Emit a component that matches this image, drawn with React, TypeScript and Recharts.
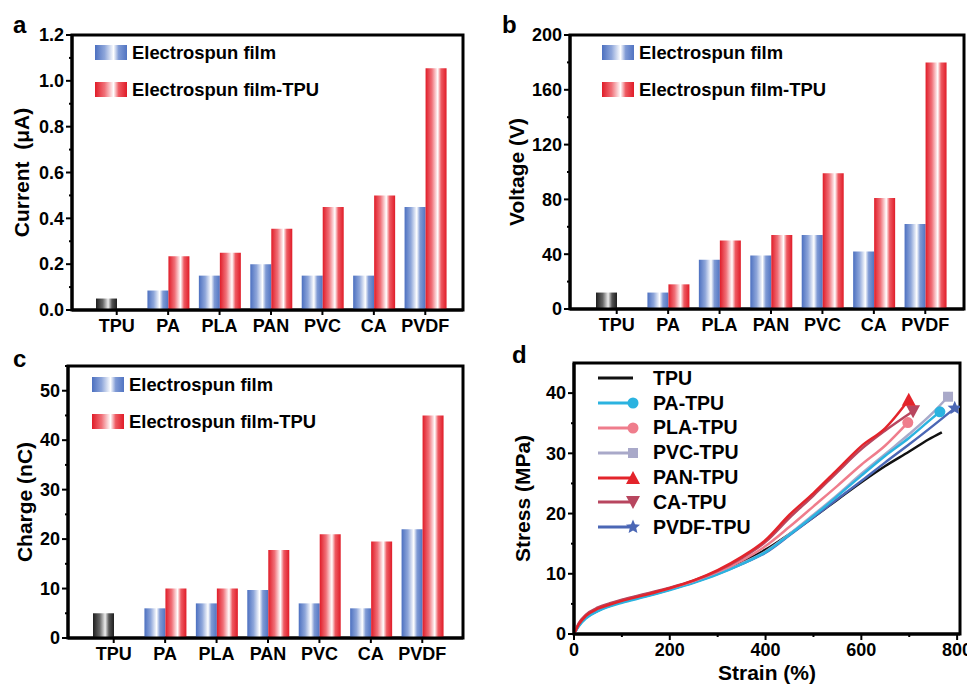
import React from "react";
import * as Recharts from "recharts";
import { BarChart, Bar, Cell, LineChart, Line, XAxis, YAxis, Legend } from "recharts";

const FONT = '"Liberation Sans", Arial, Helvetica, sans-serif';

// ---- bar panels (a, b, c) ----
const categories = ["TPU", "PA", "PLA", "PAN", "PVC", "CA", "PVDF"];

const currentFilm = [0.05, 0.085, 0.15, 0.2, 0.15, 0.15, 0.45];
const currentFilmTpu = [null, 0.235, 0.25, 0.355, 0.45, 0.5, 1.055];
const currentTicks = [0, 0.1, 0.2, 0.3, 0.4, 0.5, 0.6, 0.7, 0.8, 0.9, 1.0, 1.1, 1.2];
const currentTickLabels = [0, 0.2, 0.4, 0.6, 0.8, 1.0, 1.2];

const voltageFilm = [12, 12, 36, 39, 54, 42, 62];
const voltageFilmTpu = [null, 18, 50, 54, 99, 81, 180];
const voltageTicks = [0, 20, 40, 60, 80, 100, 120, 140, 160, 180, 200];
const voltageTickLabels = [0, 40, 80, 120, 160, 200];

const chargeFilm = [5, 6, 7, 9.7, 7, 6, 22];
const chargeFilmTpu = [null, 10, 10, 17.8, 21, 19.5, 45];
const chargeTicks = [0, 5, 10, 15, 20, 25, 30, 35, 40, 45, 50, 55];
const chargeTickLabels = [0, 10, 20, 30, 40, 50];

const barSeriesNames = ["Electrospun film", "Electrospun film-TPU"];

// ---- stress-strain panel (d), [strain %, stress MPa] ----
const tpuCurve = [[0, 0], [10, 1.6], [25, 2.9], [50, 4.0], [75, 4.8], [100, 5.4], [150, 6.4], [200, 7.5], [250, 8.8], [300, 10.3], [350, 12.0], [400, 14.0], [450, 16.6], [500, 19.4], [550, 22.3], [600, 25.2], [650, 27.9], [700, 30.3], [740, 32.3], [768, 33.5]];
const paCurve = [[0, 0], [10, 1.3], [25, 2.6], [50, 3.8], [75, 4.6], [100, 5.2], [150, 6.2], [200, 7.3], [250, 8.5], [300, 9.9], [350, 11.6], [400, 13.6], [450, 16.5], [500, 19.6], [550, 22.9], [600, 26.3], [650, 29.6], [700, 32.6], [740, 35.3], [764, 36.9]];
const plaCurve = [[0, 0], [10, 1.7], [25, 3.1], [50, 4.3], [75, 5.0], [100, 5.6], [150, 6.6], [200, 7.6], [250, 8.8], [300, 10.3], [350, 12.2], [400, 14.6], [450, 17.8], [500, 21.2], [550, 24.6], [600, 28.1], [650, 31.3], [697, 35.1]];
const pvcCurve = [[0, 0], [10, 1.4], [25, 2.7], [50, 3.9], [75, 4.7], [100, 5.3], [150, 6.3], [200, 7.4], [250, 8.6], [300, 10.0], [350, 11.7], [400, 13.7], [450, 16.6], [500, 19.8], [550, 23.1], [600, 26.6], [650, 29.9], [700, 33.2], [750, 36.8], [781, 39.4]];
const panCurve = [[0, 0], [10, 1.6], [25, 3.0], [50, 4.2], [75, 4.9], [100, 5.5], [150, 6.5], [200, 7.6], [250, 8.9], [300, 10.6], [350, 12.8], [400, 15.6], [450, 19.8], [500, 23.4], [550, 27.3], [600, 31.2], [650, 34.2], [699, 38.9]];
const caCurve = [[0, 0], [10, 1.8], [25, 3.2], [50, 4.4], [75, 5.1], [100, 5.7], [150, 6.7], [200, 7.7], [250, 8.9], [300, 10.5], [350, 12.6], [400, 15.3], [450, 19.3], [500, 23.0], [550, 26.9], [600, 30.7], [650, 33.8], [708, 37.0]];
const pvdfCurve = [[0, 0], [10, 1.4], [25, 2.7], [50, 3.9], [75, 4.7], [100, 5.3], [150, 6.3], [200, 7.4], [250, 8.6], [300, 10.0], [350, 11.6], [400, 13.5], [450, 16.4], [500, 19.4], [550, 22.4], [600, 25.4], [650, 28.5], [700, 31.5], [750, 34.6], [795, 37.5]];

const curveNames = ["TPU", "PA-TPU", "PLA-TPU", "PVC-TPU", "PAN-TPU", "CA-TPU", "PVDF-TPU"];
const curveData = [tpuCurve, paCurve, plaCurve, pvcCurve, panCurve, caCurve, pvdfCurve];
const curveColors = ["#111111", "#2bb3e0", "#ef7d8c", "#a9a9c9", "#e3242b", "#b8465f", "#4b67b5"];
const curveMarkers = ["none", "circle", "circle", "square", "triangle", "triangleDown", "star"];
const drawOrder = [0, 6, 3, 1, 2, 5, 4];

const strainTicks = [0, 100, 200, 300, 400, 500, 600, 700, 800];
const strainTickLabels = [0, 200, 400, 600, 800];
const stressTicks = [0, 5, 10, 15, 20, 25, 30, 35, 40];
const stressTickLabels = [0, 10, 20, 30, 40];

const blueStops = [["0%", "#4c70c0"], ["30%", "#8ea6da"], ["58%", "#ffffff"], ["74%", "#7f9ad5"], ["100%", "#5174c2"]];
const redStops = [["0%", "#e01c28"], ["30%", "#f07078"], ["58%", "#ffffff"], ["74%", "#ee5a62"], ["100%", "#e01c28"]];
const grayStops = [["0%", "#1e1e1e"], ["32%", "#666666"], ["58%", "#eeeeee"], ["76%", "#555555"], ["100%", "#1e1e1e"]];

const cssGrad = (stops: string[][]) =>
  `linear-gradient(to right, ${stops.map(([o, c]) => `${c} ${o}`).join(", ")})`;

const isIn = (labels: number[], v: number) => labels.some((l) => Math.abs(l - v) < 1e-9);

const titleStyle = { fill: "#000", fontSize: 21, fontWeight: "bold", fontFamily: FONT, textAnchor: "middle" };
const axisLine = { stroke: "#000", strokeWidth: 3 };
const TICK = 6;
const MINOR = 3;

// box around the plot area
const usePlotAreaHook: any = (Recharts as any).usePlotArea || (() => null);
const Frame = () => {
  const pa = usePlotAreaHook();
  if (!pa) return null;
  return <rect x={pa.x} y={pa.y} width={pa.width} height={pa.height} fill="none" stroke="#000" strokeWidth={3} />;
};

// tick with a long line for labelled values and a short one for minor values
const makeTick = (side: "left" | "bottom", labels: number[], fmt: (v: number) => string) => (p: any) => {
  const v = p.payload.value;
  const major = isIn(labels, v);
  const len = major ? TICK : MINOR;
  const text = major ? fmt(v) : "";
  if (side === "left") {
    const ax = p.x + TICK + 2;
    return (
      <g>
        <line x1={ax - len} y1={p.y} x2={ax} y2={p.y} stroke="#000" strokeWidth={2} />
        <text x={p.x} y={p.y} dy="0.35em" textAnchor="end" fill="#000" fontSize={18} fontWeight="bold" fontFamily={FONT}>
          {text}
        </text>
      </g>
    );
  }
  const ay = p.y - TICK - 2;
  return (
    <g>
      <line x1={p.x} y1={ay} x2={p.x} y2={ay + len} stroke="#000" strokeWidth={2} />
      <text x={p.x} y={p.y} dy="0.8em" textAnchor="middle" fill="#000" fontSize={18} fontWeight="bold" fontFamily={FONT}>
        {text}
      </text>
    </g>
  );
};

const CategoryTick = (p: any) => {
  const ay = p.y - TICK - 2;
  return (
    <g>
      <line x1={p.x} y1={ay} x2={p.x} y2={ay + 5} stroke="#000" strokeWidth={2} />
      <text x={p.x} y={p.y} dy="0.8em" textAnchor="middle" fill="#000" fontSize={18} fontWeight="bold" fontFamily={FONT}>
        {p.payload.value}
      </text>
    </g>
  );
};

const Grad = ({ id, stops }: any) => (
  <linearGradient id={id} x1="0" y1="0" x2="1" y2="0">
    {stops.map(([o, c]: string[]) => (
      <stop key={o} offset={o} stopColor={c} />
    ))}
  </linearGradient>
);

const BarLegend = () => (
  <div style={{ fontFamily: FONT, fontWeight: "bold", fontSize: 18.4, color: "#000" }}>
    {barSeriesNames.map((n, i) => (
      <div key={n} style={{ display: "flex", alignItems: "center", height: 37 }}>
        <div style={{ width: 32, height: 15, background: cssGrad(i === 0 ? blueStops : redStops) }} />
        <span style={{ marginLeft: 5, whiteSpace: "nowrap" }}>{n}</span>
      </div>
    ))}
  </div>
);

const BarPanel = ({ id, film, filmTpu, ticks, labels, fmt, yLabel, width, height, margin, yWidth, xHeight, labelOffset, padding, legendPos }: any) => {
  const data = categories.map((c, i) => ({ name: c, film: film[i], filmTpu: filmTpu[i] }));
  const top = ticks[ticks.length - 1];
  return (
    <BarChart width={width} height={height} data={data} margin={margin} barGap={0} barSize={21}>
      <defs>
        <Grad id={id + "Blue"} stops={blueStops} />
        <Grad id={id + "Red"} stops={redStops} />
        <Grad id={id + "Gray"} stops={grayStops} />
      </defs>
      <Frame />
      <XAxis dataKey="name" height={xHeight} padding={padding} tick={<CategoryTick />} axisLine={axisLine} tickLine={false} tickSize={TICK} interval={0} />
      <YAxis
        width={yWidth}
        domain={[0, top]}
        ticks={ticks}
        allowDataOverflow
        interval={0}
        tick={makeTick("left", labels, fmt)}
        axisLine={axisLine}
        tickLine={false}
        tickSize={TICK}
        label={{ value: yLabel, angle: -90, position: "insideLeft", offset: labelOffset, style: titleStyle }}
      />
      <Legend
        layout="vertical"
        align="center"
        verticalAlign="middle"
        wrapperStyle={{ left: legendPos[0], top: legendPos[1], width: "auto" }}
        content={() => <BarLegend />}
      />
      <Bar dataKey="film" name={barSeriesNames[0]} isAnimationActive={false}>
        {categories.map((c, i) => (
          <Cell key={c} fill={filmTpu[i] == null ? `url(#${id}Gray)` : `url(#${id}Blue)`} />
        ))}
      </Bar>
      <Bar dataKey="filmTpu" name={barSeriesNames[1]} fill={`url(#${id}Red)`} isAnimationActive={false} />
    </BarChart>
  );
};

const starPath = (cx: number, cy: number, r: number) => {
  const pts: string[] = [];
  for (let k = 0; k < 10; k++) {
    const rr = k % 2 === 0 ? r : r * 0.45;
    const a = -Math.PI / 2 + (k * Math.PI) / 5;
    pts.push(`${cx + rr * Math.cos(a)},${cy + rr * Math.sin(a)}`);
  }
  return "M" + pts.join("L") + "Z";
};

const Marker = ({ shape, color, cx, cy }: any) => {
  if (shape === "circle") return <circle cx={cx} cy={cy} r={5.5} fill={color} />;
  if (shape === "square") return <rect x={cx - 5} y={cy - 5} width={10} height={10} fill={color} />;
  if (shape === "triangle") return <path d={`M${cx},${cy - 7}L${cx + 7},${cy + 6}L${cx - 7},${cy + 6}Z`} fill={color} />;
  if (shape === "triangleDown") return <path d={`M${cx},${cy + 7}L${cx + 7},${cy - 6}L${cx - 7},${cy - 6}Z`} fill={color} />;
  if (shape === "star") return <path d={starPath(cx, cy, 7.5)} fill={color} />;
  return null;
};

const CurveLegend = () => (
  <div style={{ fontFamily: FONT, fontWeight: "bold", fontSize: 19.5, color: "#000" }}>
    {curveNames.map((n, i) => (
      <div key={n} style={{ display: "flex", alignItems: "center", height: 24.8 }}>
        <svg width={42} height={18} style={{ display: "block" }}>
          <line x1={0} y1={9} x2={35} y2={9} stroke={curveColors[i]} strokeWidth={3} />
          <Marker shape={curveMarkers[i]} color={curveColors[i]} cx={35} cy={9} />
        </svg>
        <span style={{ marginLeft: 13, whiteSpace: "nowrap" }}>{n}</span>
      </div>
    ))}
  </div>
);

const StressPanel = () => (
  <LineChart width={487} height={354} margin={{ top: 33, right: 7, left: 30, bottom: 4 }}>
    <Frame />
    <XAxis
      type="number"
      dataKey="x"
      domain={[0, 806]}
      allowDataOverflow
      ticks={strainTicks}
      interval={0}
      height={46}
      tick={makeTick("bottom", strainTickLabels, (v) => "" + v)}
      axisLine={axisLine}
      tickLine={false}
      tickSize={TICK}
      label={{ value: "Strain (%)", position: "insideBottom", offset: 0, style: titleStyle }}
    />
    <YAxis
      type="number"
      domain={[0, 45]}
      allowDataOverflow
      ticks={stressTicks}
      interval={0}
      width={64}
      tick={makeTick("left", stressTickLabels, (v) => "" + v)}
      axisLine={axisLine}
      tickLine={false}
      tickSize={TICK}
      label={{ value: "Stress (MPa)", angle: -90, position: "insideLeft", offset: 13, style: titleStyle }}
    />
    <Legend
      layout="vertical"
      align="center"
      verticalAlign="middle"
      wrapperStyle={{ left: 118, top: 36, width: "auto" }}
      content={() => <CurveLegend />}
    />
    {drawOrder.map((i) => {
      const pts = curveData[i].map(([x, y]) => ({ x, y }));
      const last = pts.length - 1;
      return (
        <Line
          key={curveNames[i]}
          data={pts}
          dataKey="y"
          name={curveNames[i]}
          type="monotone"
          stroke={curveColors[i]}
          strokeWidth={2.5}
          activeDot={false}
          isAnimationActive={false}
          dot={(p: any) =>
            p.index === last ? (
              <Marker key={"m" + i} shape={curveMarkers[i]} color={curveColors[i]} cx={p.cx} cy={p.cy} />
            ) : (
              <g key={"m" + i + "-" + p.index} />
            )
          }
        />
      );
    })}
  </LineChart>
);

const panelLabel = (t: string, left: number, top: number) => (
  <div style={{ position: "absolute", left, top, fontSize: 24, lineHeight: 1, fontWeight: "bold", fontFamily: FONT }}>{t}</div>
);

export default function App() {
  return (
    <div style={{ position: "absolute", left: 0, top: 0, width: 967, height: 684, background: "#fff", fontFamily: FONT, overflow: "hidden" }}>
      <div style={{ position: "absolute", left: 0, top: 0 }}>
        <BarPanel
          id="a"
          film={currentFilm}
          filmTpu={currentFilmTpu}
          ticks={currentTicks}
          labels={currentTickLabels}
          fmt={(v: number) => v.toFixed(1)}
          yLabel={"Current\u00a0\u00a0(\u03bcA)"}
          width={480}
          height={340}
          margin={{ top: 35, right: 17, left: 10, bottom: 0 }}
          yWidth={62}
          xHeight={30}
          labelOffset={12}
          padding={{ left: 19, right: 12 }}
          legendPos={[95, 34]}
        />
      </div>
      <div style={{ position: "absolute", left: 480, top: 0 }}>
        <BarPanel
          id="b"
          film={voltageFilm}
          filmTpu={voltageFilmTpu}
          ticks={voltageTicks}
          labels={voltageTickLabels}
          fmt={(v: number) => "" + v}
          yLabel="Voltage (V)"
          width={487}
          height={340}
          margin={{ top: 35, right: 3, left: 30, bottom: 0 }}
          yWidth={60}
          xHeight={31}
          labelOffset={7}
          padding={{ left: 21, right: 13 }}
          legendPos={[122, 34]}
        />
      </div>
      <div style={{ position: "absolute", left: 0, top: 330 }}>
        <BarPanel
          id="c"
          film={chargeFilm}
          filmTpu={chargeFilmTpu}
          ticks={chargeTicks}
          labels={chargeTickLabels}
          fmt={(v: number) => "" + v}
          yLabel="Charge (nC)"
          width={480}
          height={354}
          margin={{ top: 36, right: 17, left: 18, bottom: 16 }}
          yWidth={50}
          xHeight={30}
          labelOffset={7}
          padding={{ left: 20, right: 15 }}
          legendPos={[92, 36]}
        />
      </div>
      <div style={{ position: "absolute", left: 480, top: 330 }}>
        <StressPanel />
      </div>
      {panelLabel("a", 13, 13)}
      {panelLabel("b", 502, 13)}
      {panelLabel("c", 13, 347)}
      {panelLabel("d", 512, 343)}
    </div>
  );
}
